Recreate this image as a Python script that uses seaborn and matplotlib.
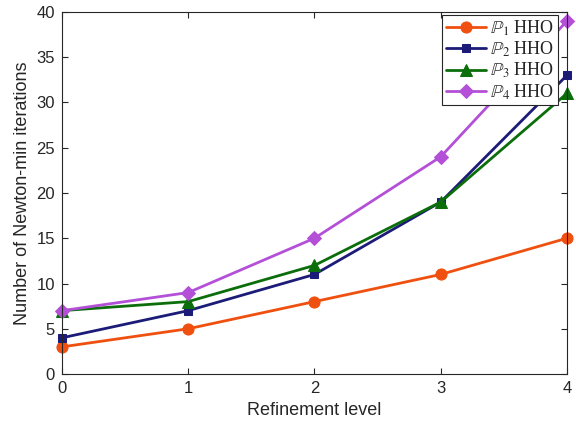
import matplotlib
matplotlib.use("Agg")
import matplotlib.pyplot as plt
import seaborn as sns
import pandas as pd

levels = [0, 1, 2, 3, 4]
p1_hho = [3, 5, 8, 11, 15]
p2_hho = [4, 7, 11, 19, 33]
p3_hho = [7, 8, 12, 19, 31]
p4_hho = [7, 9, 15, 24, 39]
series_labels = [r"$\mathbb{P}_1$ HHO", r"$\mathbb{P}_2$ HHO",
                 r"$\mathbb{P}_3$ HHO", r"$\mathbb{P}_4$ HHO"]

sns.set_style("ticks")
plt.rcParams["font.family"] = ["Liberation Sans", "DejaVu Sans"]
plt.rcParams["mathtext.fontset"] = "stix"

df = pd.DataFrame({
    "level": levels * 4,
    "iters": p1_hho + p2_hho + p3_hho + p4_hho,
    "method": sum([[lab] * len(levels) for lab in series_labels], []),
})

colors = ["#f0500f", "#1c1c78", "#0b6e0b", "#b450d8"]
markers = ["o", "s", "^", "D"]
msizes = [8, 6, 8, 7]

fig = plt.figure(figsize=(5.76, 4.26), dpi=100)
ax = fig.add_axes([0.1076, 0.122, 0.8767, 0.850])

for lab, c, m, ms in zip(series_labels, colors, markers, msizes):
    sns.lineplot(data=df[df["method"] == lab], x="level", y="iters", ax=ax,
                 color=c, marker=m, markersize=ms, markeredgecolor=c,
                 linewidth=2, label=lab, clip_on=False)

ax.set_xlim(0, 4)
ax.set_ylim(0, 40)
ax.set_xticks(levels)
ax.set_yticks(range(0, 41, 5))
axcol = "#262626"
for s in ax.spines.values():
    s.set_color(axcol)
    s.set_linewidth(0.8)
ax.tick_params(direction="in", top=True, right=True, length=4,
               labelsize=12, color=axcol, labelcolor=axcol, pad=5)
ax.set_xlabel("Refinement level", fontsize=13, color=axcol)
ax.set_ylabel("Number of Newton-min iterations", fontsize=13, color=axcol)

leg = ax.legend(loc="upper right", bbox_to_anchor=(558 / 576, 1 - 15 / 426),
                bbox_transform=fig.transFigure, frameon=True, fancybox=False,
                prop={"family": "Liberation Serif", "size": 13},
                borderpad=0.2, labelspacing=0.1, handlelength=2.2,
                handletextpad=0.25, borderaxespad=0)
leg.get_frame().set_edgecolor("#262626")
leg.get_frame().set_linewidth(0.8)
leg.get_frame().set_alpha(1)

fig.savefig("out.png", dpi=100)
